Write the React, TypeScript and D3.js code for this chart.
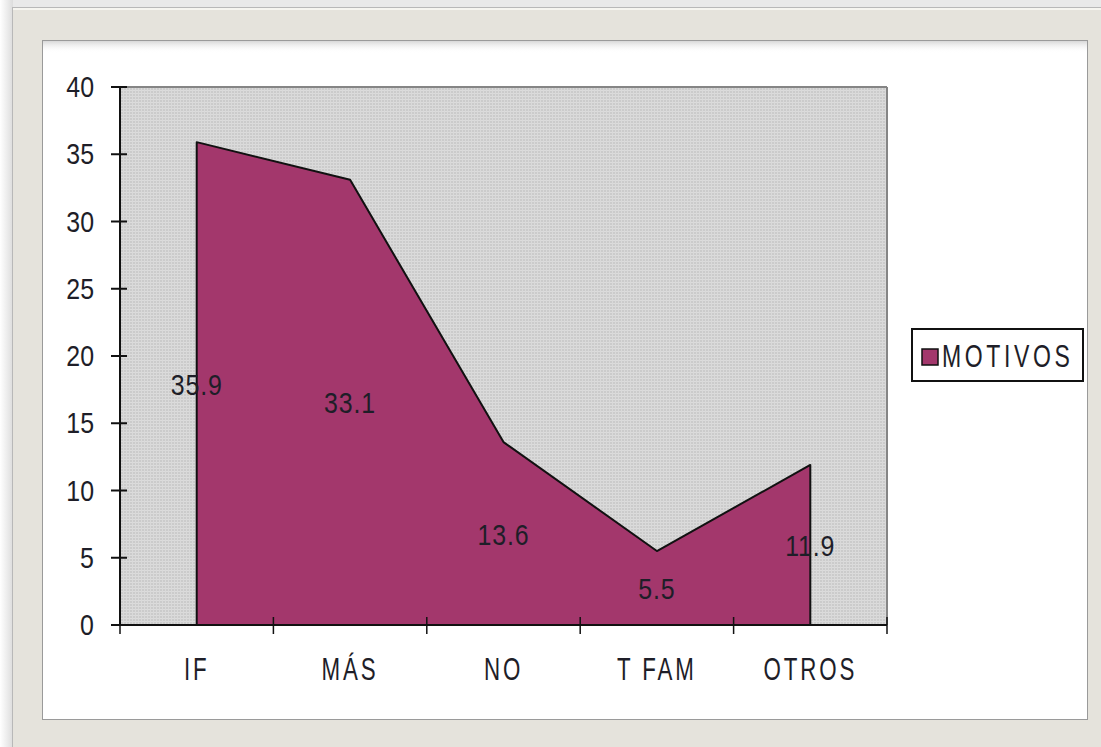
import React from "react";
import * as d3 from "d3";

const categories = ["IF", "MÁS", "NO", "T FAM", "OTROS"];
const values = [35.9, 33.1, 13.6, 5.5, 11.9];
const yTicks = [0, 5, 10, 15, 20, 25, 30, 35, 40];
const seriesName = "MOTIVOS";

const W = 1101;
const H = 747;
const plot = { left: 120, right: 887, top: 87, bottom: 625 };
const FILL = "#A3376C";
const FONT = "'Liberation Sans', Arial, sans-serif";
const TXT = "#1e1e28";

export default function App() {
  const x = d3
    .scaleBand<string>()
    .domain(categories)
    .range([plot.left, plot.right])
    .padding(0);
  const bw = x.bandwidth();
  const cx = (c: string) => (x(c) as number) + bw / 2;
  const y = d3.scaleLinear().domain([0, 40]).range([plot.bottom, plot.top]);

  const data = categories.map((c, i) => ({ c, v: values[i] }));
  const area = d3
    .area<{ c: string; v: number }>()
    .x((d) => cx(d.c))
    .y0(y(0))
    .y1((d) => y(d.v));
  const outline = d3
    .line<[number, number]>()
    .x((d) => d[0])
    .y((d) => d[1]);
  const outlinePts: [number, number][] = [
    [cx(categories[0]), y(0)],
    ...data.map((d) => [cx(d.c), y(d.v)] as [number, number]),
    [cx(categories[categories.length - 1]), y(0)],
  ];

  const xTickPos = [...categories.map((c) => x(c) as number), plot.right];

  return (
    <svg
      width={W}
      height={H}
      style={{ position: "absolute", left: 0, top: 0, display: "block" }}
    >
      <defs>
        <pattern id="dots" width="3" height="3" patternUnits="userSpaceOnUse">
          <rect width="3" height="3" fill="#cbcbcb" />
          <rect width="3" height="1" fill="#dcdcdc" />
          <rect width="1" height="3" fill="#d9d9d9" />
        </pattern>
        <linearGradient id="leftShade" x1="0" x2="1" y1="0" y2="0">
          <stop offset="0" stopColor="#ffffff" />
          <stop offset="1" stopColor="#dcdcdc" />
        </linearGradient>
        <linearGradient id="topShadow" x1="0" x2="0" y1="0" y2="1">
          <stop offset="0" stopColor="#d8d8d8" />
          <stop offset="1" stopColor="#ffffff" stopOpacity="0" />
        </linearGradient>
      </defs>
      {/* page background */}
      <rect x={0} y={0} width={W} height={H} fill="#e9e9e9" />
      <rect x={0} y={0} width={13} height={H} fill="url(#leftShade)" />
      {/* frame */}
      <rect
        x={12.5}
        y={7.5}
        width={W}
        height={H}
        fill="#e5e3dc"
        stroke="#b8b8b8"
        strokeWidth={1}
      />
      <line x1={13} x2={W} y1={9} y2={9} stroke="#f6f5f0" strokeWidth={2} />
      {/* white panel */}
      <rect
        x={42.5}
        y={40.5}
        width={1045}
        height={679}
        fill="#ffffff"
        stroke="#9a9a9a"
        strokeWidth={1}
      />
      <rect x={43} y={41} width={1044} height={12} fill="url(#topShadow)" />

      {/* plot area */}
      <rect
        x={plot.left}
        y={plot.top}
        width={plot.right - plot.left}
        height={plot.bottom - plot.top}
        fill="url(#dots)"
      />
      <line x1={plot.left} x2={plot.right} y1={plot.top} y2={plot.top} stroke="#858585" strokeWidth={2} />
      <line x1={plot.right} x2={plot.right} y1={plot.top} y2={plot.bottom} stroke="#858585" strokeWidth={2} />

      {/* area */}
      <path d={area(data) || ""} fill={FILL} />
      <path
        d={outline(outlinePts) || ""}
        fill="none"
        stroke="#111"
        strokeWidth={2}
        strokeLinejoin="round"
      />

      {/* y axis */}
      <line x1={plot.left} x2={plot.left} y1={plot.top} y2={plot.bottom} stroke="#111" strokeWidth={2} />
      {yTicks.map((t) => (
        <g key={t}>
          <line x1={plot.left - 9} x2={plot.left + 7} y1={y(t)} y2={y(t)} stroke="#111" strokeWidth={2} />
          <text
            transform={`translate(94,${y(t) + 10}) scale(0.86,1)`}
            textAnchor="end"
            fontFamily={FONT}
            fontSize={29}
            fill={TXT}
          >
            {t}
          </text>
        </g>
      ))}

      {/* x axis */}
      <line x1={plot.left - 9} x2={plot.right} y1={plot.bottom} y2={plot.bottom} stroke="#111" strokeWidth={2} />
      {xTickPos.map((p, i) => (
        <line key={i} x1={p} x2={p} y1={plot.bottom - 8} y2={plot.bottom + 9} stroke="#111" strokeWidth={1.5} />
      ))}
      {categories.map((c) => (
        <text
          key={c}
          transform={`translate(${cx(c)},680) scale(0.72,1)`}
          textAnchor="middle"
          fontFamily={FONT}
          fontSize={31}
          letterSpacing={4}
          fill={TXT}
        >
          {c}
        </text>
      ))}

      {/* data labels */}
      {data.map((d) => (
        <text
          key={d.c}
          transform={`translate(${cx(d.c)},${(y(0) + y(d.v)) / 2 + 11}) scale(0.86,1)`}
          textAnchor="middle"
          fontFamily={FONT}
          fontSize={29}
          letterSpacing={1}
          fill={TXT}
        >
          {d.v.toFixed(1)}
        </text>
      ))}

      {/* legend */}
      <rect x={912} y={329} width={171} height={52} fill="#ffffff" stroke="#111" strokeWidth={2} />
      <rect x={922} y={349} width={16} height={16} fill={FILL} stroke="#111" strokeWidth={1.5} />
      <text
        transform="translate(942,367) scale(0.72,1)"
        fontFamily={FONT}
        fontSize={32}
        letterSpacing={5}
        fill={TXT}
      >
        {seriesName}
      </text>
    </svg>
  );
}
